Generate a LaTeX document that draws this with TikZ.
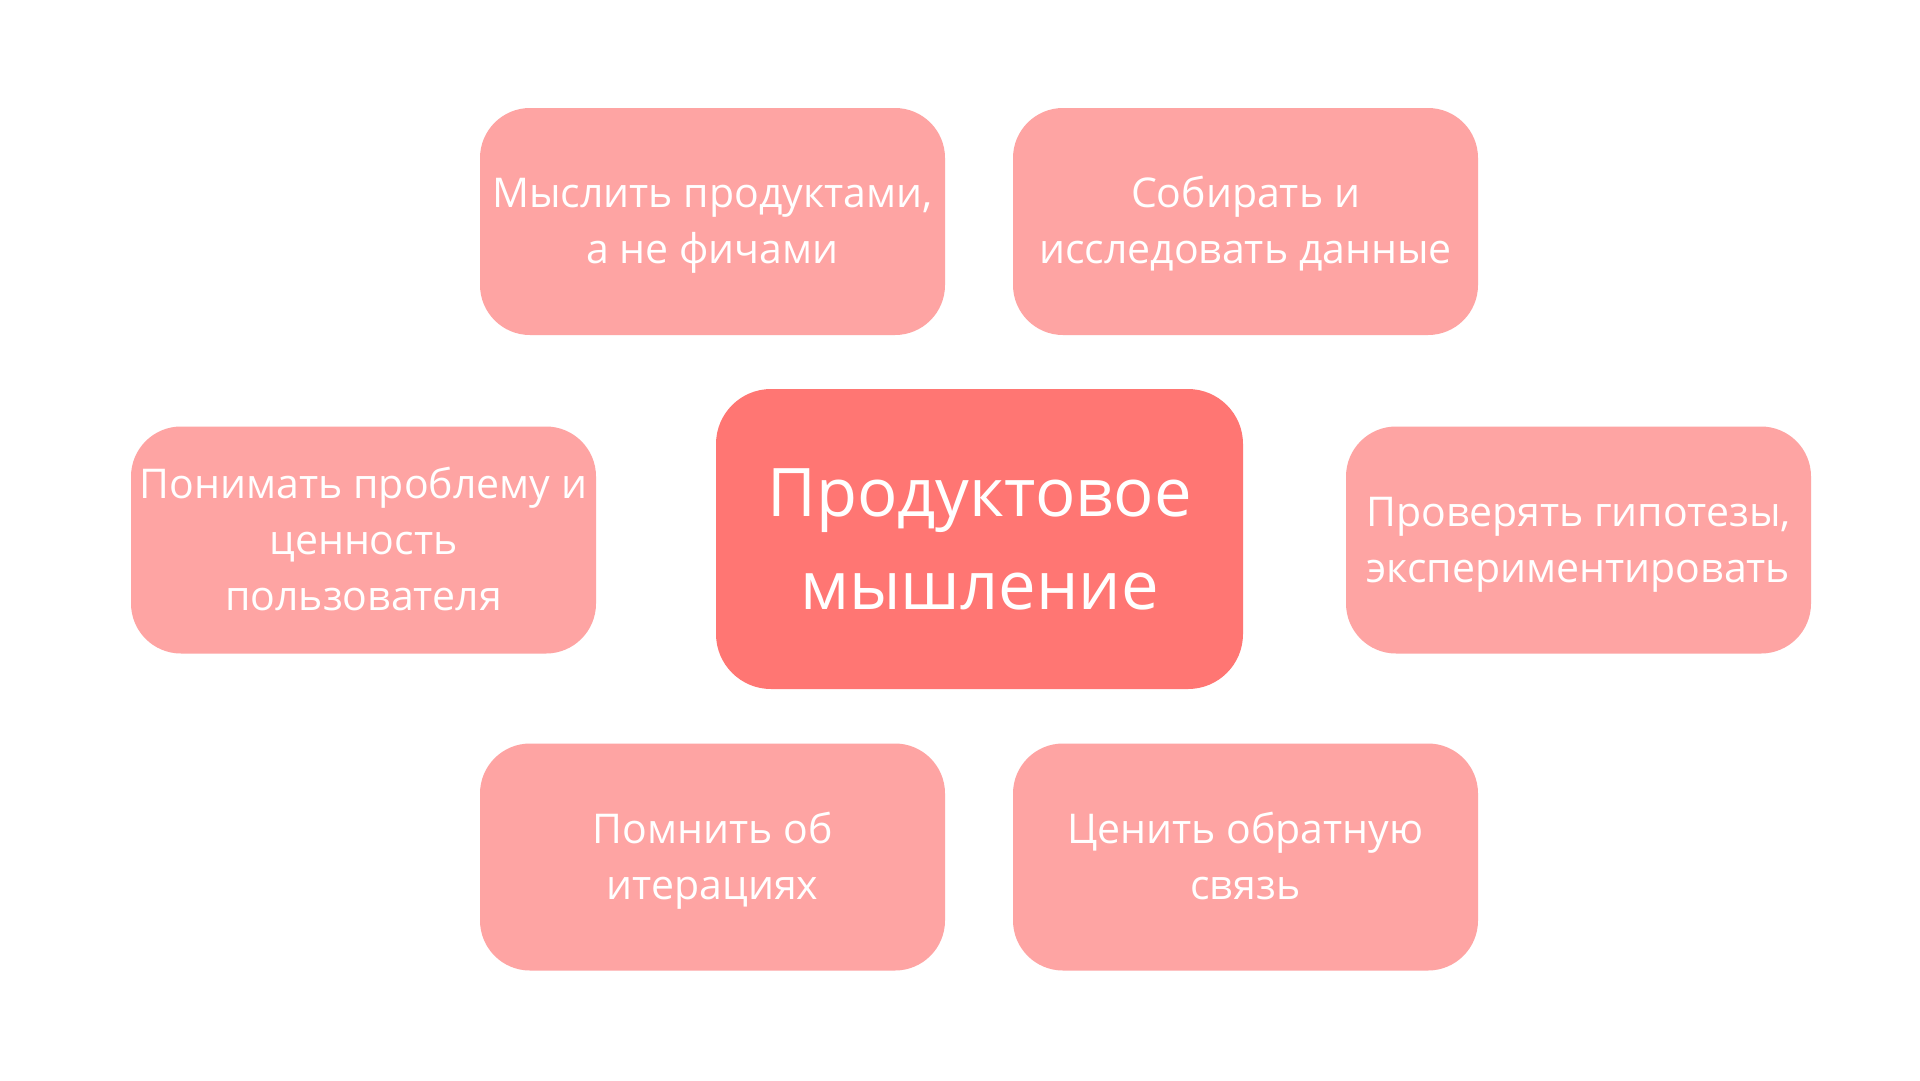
\documentclass[tikz,border=0pt]{standalone}
\usepackage{fontspec}
\setmainfont{Open Sans}
\usetikzlibrary{positioning}
\tikzstyle{canvas} = [x = 1pt, y = -1pt]
\definecolor{ideaColor}{RGB}{254,164,163}
\definecolor{coreColor}{RGB}{255,118,115}
\tikzstyle{ideaStyle} = [fill=ideaColor, rounded corners = 50pt, minimum width = 465pt, minimum height = 227pt, inner sep = 0pt]
\tikzstyle{ideaText} = [inner sep = 0pt, align = center, text = white, font = \fontsize{41}{56}\selectfont]
\tikzstyle{coreStyle} = [fill=coreColor, rounded corners = 55pt, minimum width = 527pt, minimum height = 300pt, inner sep = 0pt]
\tikzstyle{coreText} = [inner sep = 0pt, align = center, text = white, font = \fontsize{67}{93}\selectfont]
\newcommand{\ideaBox}[4]{\node [ideaStyle] (#1) at (#2, #3) {};
  \node [ideaText] (#1Text) at ([yshift = -3pt]#1.center) {\strut #4\strut};}

\begin{document}
\begin{tikzpicture}[canvas]
            \useasboundingbox [fill = white] (0,0) rectangle (1920,1080);
            \node [coreStyle] (core) at (979.5, 539) {};
            \node [coreText] (coreText) at ([yshift = -5pt]core.center) {\strut Продуктовое\\мышление\strut};

            \ideaBox{topLeft}{712.5}{221.5}{Мыслить продуктами,\\а не фичами}
            \ideaBox{topRight}{1245.5}{221.5}{Собирать и\\исследовать данные}
            \ideaBox{left}{363.5}{540}{Понимать проблему и\\ценность\\пользователя}
            \ideaBox{right}{1578.5}{540}{Проверять гипотезы,\\экспериментировать}
            \ideaBox{bottomLeft}{712.5}{857}{Помнить об\\итерациях}
            \ideaBox{bottomRight}{1245.5}{857}{Ценить обратную\\связь}
          \end{tikzpicture}
\end{document}
